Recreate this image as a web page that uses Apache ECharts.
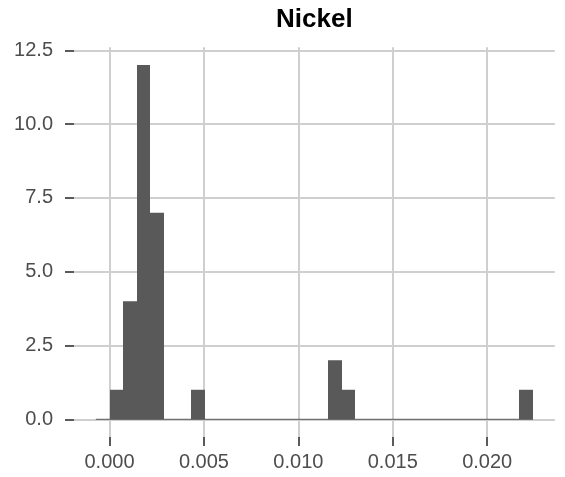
<!DOCTYPE html>
<html>
<head>
<meta charset="utf-8">
<script src="https://cdn.jsdelivr.net/npm/echarts@6/dist/echarts.min.js"></script>
<style>html,body{margin:0;padding:0;background:#fff}#c{width:565px;height:477px}</style>
</head>
<body>
<div id="c"></div>
<script>
// Histogram bins (left edge, right edge, count)
var binLeft  = [0.0000, 0.000723, 0.001447, 0.002170, 0.004340, 0.011573, 0.012296, 0.021700];
var binRight = [0.000723, 0.001447, 0.002170, 0.002893, 0.005063, 0.012296, 0.013019, 0.022423];
var counts   = [1, 4, 12, 7, 1, 2, 1, 1];
// full range of bins (zero-count bins drawn as baseline)
var binRange = [-0.000723, 0.022423];
var xTicks = [0, 0.005, 0.010, 0.015, 0.020];
var yTicks = [0, 2.5, 5, 7.5, 10, 12.5];
var title = 'Nickel';

var barData = binLeft.map(function (l, i) { return [l, binRight[i], counts[i]]; });
var FONT = '"Liberation Sans", Arial, Helvetica, sans-serif';

var chart = echarts.init(document.getElementById('c'), null, {renderer: 'canvas'});
chart.setOption({
  animation: false,
  backgroundColor: '#ffffff',
  title: {
    text: title, left: 276, top: 7, padding: 0,
    textStyle: {fontFamily: FONT, fontSize: 26, fontWeight: 'bold', color: '#000000', lineHeight: 26}
  },
  grid: {left: 74, right: 10.2, top: 47.3, bottom: 40, containLabel: false},
  xAxis: {
    type: 'value', min: -0.00188, max: 0.02358,
    axisLine: {show: false, onZero: false},
    axisTick: {show: true, length: 9, customValues: xTicks, lineStyle: {color: '#5a5a5a', width: 2}},
    axisLabel: {customValues: xTicks, margin: 15, color: '#4d4d4d', fontFamily: FONT, fontSize: 20,
      formatter: function (v) { return v.toFixed(3); }},
    splitLine: {show: true, lineStyle: {color: '#cfcfcf', width: 2}}
  },
  yAxis: {
    type: 'value', min: -0.6, max: 12.6,
    axisLine: {show: false, onZero: false},
    axisTick: {show: true, length: 9, customValues: yTicks, lineStyle: {color: '#5a5a5a', width: 2}},
    axisLabel: {customValues: yTicks, margin: 21, color: '#4d4d4d', fontFamily: FONT, fontSize: 20,
      formatter: function (v) { return v.toFixed(1); }},
    splitLine: {show: true, lineStyle: {color: '#cfcfcf', width: 2}}
  },
  series: [
    {
      type: 'line', data: [[binRange[0], 0], [binRange[1], 0]], symbol: 'none',
      lineStyle: {color: '#595959', width: 1}, z: 3
    },
    {
      type: 'custom', z: 4,
      renderItem: function (params, api) {
        var p0 = api.coord([api.value(0), api.value(2)]);
        var p1 = api.coord([api.value(1), 0]);
        var x0 = Math.round(p0[0]), x1 = Math.round(p1[0]);
        return {type: 'rect', shape: {x: x0, y: p0[1], width: x1 - x0, height: p1[1] - p0[1]},
          style: {fill: '#595959'}};
      },
      encode: {x: [0, 1], y: 2},
      data: barData
    }
  ]
});
</script>
</body>
</html>
